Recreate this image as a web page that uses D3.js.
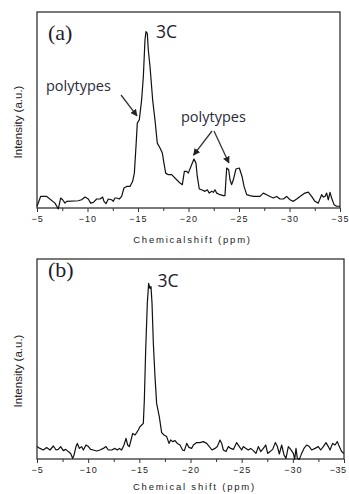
<!DOCTYPE html>
<html>
<head>
<meta charset="utf-8">
<script src="https://cdn.jsdelivr.net/npm/d3@7"></script>
<style>
  html, body { margin: 0; padding: 0; background: #fff; }
  svg { display: block; }
</style>
</head>
<body>
<div id="drawing"></div>
<script>
// chemical shift (ppm) and intensity (a.u., 0-100)
var shiftA = [-5.00, -5.36, -5.96, -6.78, -7.11, -7.34, -7.54, -7.77, -7.94, -9.09, -9.42, -9.75, -10.08, -10.31, -10.58, -10.91, -11.24, -11.50, -11.63, -11.83, -12.06, -12.39, -12.56, -12.72, -12.89, -13.15, -13.38, -13.61, -13.88, -14.21, -14.47, -14.64, -14.80, -14.93, -15.13, -15.36, -15.53, -15.69, -15.79, -15.92, -16.02, -16.19, -16.45, -16.68, -16.91, -17.18, -17.41, -17.57, -17.74, -18.00, -18.33, -18.50, -18.83, -19.16, -19.39, -19.59, -19.82, -19.98, -20.31, -20.54, -20.74, -20.87, -21.07, -21.30, -21.63, -21.86, -22.06, -22.29, -22.46, -22.62, -22.79, -23.12, -23.45, -23.61, -23.78, -23.98, -24.11, -24.27, -24.44, -24.70, -25.03, -25.30, -25.50, -25.76, -26.09, -26.42, -26.75, -27.08, -27.41, -27.74, -28.07, -28.40, -28.73, -29.06, -29.39, -29.72, -30.05, -30.38, -30.71, -31.04, -31.53, -31.86, -32.19, -32.52, -32.85, -33.18, -33.35, -33.51, -33.68, -33.84, -34.01, -34.17, -34.41, -34.67, -35.00];
var intensityA = [0.9, 5.9, 5.9, 2.5, -0.5, 5.1, 4.2, 2.5, 3.4, 3.7, 4.2, 5.6, 4.6, 2.5, 2.9, 4.6, 4.6, 5.6, 3.4, 2.2, 4.6, 4.2, 3.4, 5.1, 5.1, 4.6, 5.9, 10.2, 11.0, 11.0, 13.6, 17.8, 31.4, 43.3, 45.0, 55.2, 67.1, 85.7, 90.0, 89.1, 80.6, 72.2, 55.2, 45.0, 33.1, 30.6, 28.0, 22.9, 17.8, 17.0, 17.0, 16.1, 14.4, 12.7, 11.9, 18.7, 18.7, 17.8, 22.1, 25.0, 22.9, 16.1, 9.7, 9.3, 8.5, 9.3, 7.6, 8.5, 8.0, 9.3, 7.6, 6.8, 6.3, 6.3, 20.4, 19.5, 14.4, 11.9, 14.4, 19.9, 20.4, 16.1, 11.0, 6.8, 6.3, 5.9, 5.9, 5.9, 7.6, 6.8, 5.9, 5.1, 5.9, 4.6, 4.6, 5.9, 4.2, 3.4, 4.6, 5.9, 7.6, 8.1, 5.9, 3.4, 2.5, 6.8, 5.6, 5.9, 7.6, 4.2, 8.0, 5.1, 1.7, 0.9, 0.9];

var shiftB = [-5.00, -5.29, -5.62, -5.94, -6.27, -6.60, -6.86, -7.08, -7.31, -7.57, -7.80, -8.06, -8.29, -8.49, -8.62, -8.81, -8.94, -9.14, -9.36, -9.53, -9.79, -10.02, -10.24, -10.50, -10.83, -11.16, -11.48, -11.74, -11.97, -12.30, -12.62, -12.85, -13.05, -13.27, -13.50, -13.70, -13.86, -14.02, -14.19, -14.35, -14.58, -14.74, -14.90, -15.07, -15.23, -15.39, -15.49, -15.62, -15.78, -15.91, -16.04, -16.14, -16.24, -16.37, -16.53, -16.69, -16.95, -17.18, -17.41, -17.67, -17.90, -18.06, -18.26, -18.49, -18.71, -18.97, -19.23, -19.40, -19.63, -19.85, -20.11, -20.28, -20.60, -20.93, -21.25, -21.58, -21.84, -22.10, -22.39, -22.62, -22.88, -23.05, -23.21, -23.47, -23.70, -23.93, -24.19, -24.51, -24.77, -25.00, -25.16, -25.42, -25.65, -25.88, -26.14, -26.40, -26.63, -26.86, -27.12, -27.35, -27.54, -27.77, -28.03, -28.29, -28.49, -28.68, -28.91, -29.14, -29.33, -29.56, -29.79, -30.05, -30.18, -30.31, -30.44, -30.64, -30.86, -31.09, -31.35, -31.61, -31.84, -32.17, -32.49, -32.72, -32.98, -33.24, -33.47, -33.63, -33.89, -34.12, -34.35, -34.54, -34.77, -35.00];
var intensityB = [6.2, 5.3, 4.5, 5.7, 4.5, 6.5, 4.5, 4.8, 6.2, 4.2, 4.8, 3.7, 2.8, 0.3, 2.0, 6.2, 7.8, 5.3, 6.2, 4.5, 7.0, 6.2, 4.8, 4.5, 4.0, 4.5, 5.3, 6.2, 4.5, 4.5, 5.3, 4.5, 5.3, 4.5, 7.0, 10.3, 7.0, 6.2, 9.5, 12.8, 12.0, 13.2, 14.5, 16.2, 17.0, 17.8, 29.5, 54.5, 77.8, 87.8, 85.3, 86.2, 77.8, 57.8, 41.2, 27.8, 21.2, 13.2, 12.0, 11.2, 7.8, 9.5, 8.7, 9.2, 7.8, 7.0, 4.5, 4.2, 7.8, 5.8, 5.3, 7.0, 8.2, 8.2, 8.7, 7.8, 6.2, 4.5, 5.3, 6.2, 9.5, 7.8, 4.5, 3.7, 6.2, 5.3, 4.8, 8.2, 6.2, 4.5, 6.2, 5.3, 4.5, 5.3, 4.2, 2.8, 6.2, 3.7, 5.3, 7.0, 2.8, 3.7, 4.8, 8.2, 6.2, 2.5, 7.0, 2.0, 0.3, 6.2, 4.8, 2.8, -0.2, 5.3, 0.3, -0.2, 2.8, 5.3, 7.0, 6.2, 4.5, 5.3, 6.2, 4.5, 6.2, 8.2, 6.2, 4.5, 7.8, 7.0, 8.7, 6.2, 3.7, 2.8];

var shiftDomain = [-5, -35];
var majorTicks = [-5, -10, -15, -20, -25, -30, -35];
var minorTicks = [-7.5, -12.5, -17.5, -22.5, -27.5, -32.5];

var W = 349, H = 494;
var svg = d3.select("#drawing").append("svg").attr("width", W).attr("height", H);

var defs = svg.append("defs");
defs.append("marker")
    .attr("id", "head")
    .attr("viewBox", "0 0 10 10")
    .attr("refX", 9).attr("refY", 5)
    .attr("markerWidth", 7).attr("markerHeight", 7)
    .attr("markerUnits", "userSpaceOnUse")
    .attr("orient", "auto")
    .append("path")
    .attr("d", "M0,0 L10,5 L0,10 z")
    .attr("fill", "#222");

function panel(p) {
    var x = d3.scaleLinear().domain(shiftDomain).range([p.left, p.right]);
    var y = d3.scaleLinear().domain([0, 100]).range([p.bottom, p.top]);
    var g = svg.append("g");

    // frame
    g.append("rect")
        .attr("x", p.left).attr("y", p.top)
        .attr("width", p.right - p.left).attr("height", p.bottom - p.top)
        .attr("fill", "none").attr("stroke", "#222").attr("stroke-width", 1.2);

    var ax = g.append("g").attr("transform", "translate(0," + p.bottom + ")");
    ax.call(d3.axisBottom(x).tickValues(majorTicks).tickSize(4).tickFormat(d3.format("d")));
    var mx = g.append("g").attr("transform", "translate(0," + p.bottom + ")");
    mx.call(d3.axisBottom(x).tickValues(minorTicks).tickSize(3).tickFormat(""));
    g.selectAll(".domain").remove();
    g.selectAll(".tick line").attr("stroke", "#333");
    ax.selectAll("text")
        .attr("font-family", "Liberation Sans, Arial, sans-serif")
        .attr("font-size", 9)
        .attr("letter-spacing", 1)
        .attr("fill", "#222")
        .attr("y", 6)
        .attr("dy", "0.85em");
    // keep the last label inside the window
    ax.selectAll("text")
        .filter(function (d) { return x(d) + 9 > W; })
        .attr("text-anchor", "end")
        .attr("letter-spacing", 0.5)
        .attr("x", function (d) { return W - 3 - x(d); });

    var line = d3.line()
        .x(function (d) { return x(d[0]); })
        .y(function (d) { return y(d[1]); });
    g.append("path")
        .datum(d3.zip(p.shift, p.intensity))
        .attr("d", line)
        .attr("fill", "none")
        .attr("stroke", "#111")
        .attr("stroke-width", 1.2)
        .attr("stroke-linejoin", "round");

    g.append("text")
        .attr("x", (p.left + p.right) / 2 + 4)
        .attr("y", p.titleY)
        .attr("text-anchor", "middle")
        .attr("font-family", "Liberation Sans, Arial, sans-serif")
        .attr("font-size", 9.5)
        .attr("letter-spacing", 1.8)
        .attr("fill", "#222")
        .text(p.xTitle);

    g.append("text")
        .attr("transform", "translate(22," + ((p.top + p.bottom) / 2 + 12) + ") rotate(-90)")
        .attr("text-anchor", "middle")
        .attr("font-family", "Liberation Sans, Arial, sans-serif")
        .attr("font-size", 11.5)
        .attr("fill", "#222")
        .text("Intensity (a.u.)");

    g.append("text")
        .attr("x", p.left + 11).attr("y", p.labelY)
        .attr("font-family", "Liberation Serif, Times New Roman, serif")
        .attr("font-size", 22)
        .attr("fill", "#1c1c2c")
        .text(p.label);

    g.append("text")
        .attr("x", x(-16.0) + 8).attr("y", p.peakY)
        .attr("font-family", "Open Sans, sans-serif")
        .attr("font-size", 17.5)
        .attr("fill", "#1c1c2c")
        .text("3C");

    return { x: x, y: y, g: g };
}

var a = panel({ left: 37, right: 340, top: 12, bottom: 208, shift: shiftA, intensity: intensityA,
    xTitle: "Chemicalshift (ppm)", titleY: 243, label: "(a)", labelY: 40, peakY: 38 });
var b = panel({ left: 37, right: 344, top: 259, bottom: 459, shift: shiftB, intensity: intensityB,
    xTitle: "Chemical shift (ppm)", titleY: 490, label: "(b)", labelY: 277, peakY: 287 });

// polytype annotations in panel (a)
function note(tx, ty, arrows) {
    a.g.append("text")
        .attr("x", tx).attr("y", ty)
        .attr("font-family", "Open Sans, sans-serif")
        .attr("font-size", 14.5)
        .attr("fill", "#2a2a3a")
        .text("polytypes");
    arrows.forEach(function (r) {
        a.g.append("line")
            .attr("x1", r[0]).attr("y1", r[1])
            .attr("x2", a.x(r[2])).attr("y2", a.y(r[3]))
            .attr("stroke", "#333").attr("stroke-width", 1.3)
            .attr("marker-end", "url(#head)");
    });
}
note(46, 91, [[121, 95, -14.9, 47]]);
note(181, 122, [[212, 131, -20.5, 27], [214, 131, -24.0, 23]]);
</script>
</body>
</html>
